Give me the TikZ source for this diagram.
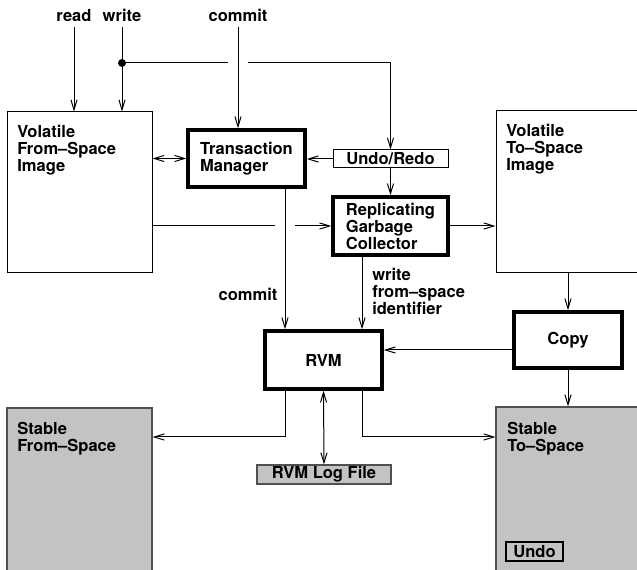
\documentclass[tikz,border=0pt]{standalone}
\usepackage{fontspec}
\setmainfont{TeX Gyre Heros}
\usetikzlibrary{arrows.meta}
\definecolor{sgray}{RGB}{195,195,195}
\definecolor{edgegray}{RGB}{80,80,80}
\begin{document}
\begin{tikzpicture}[x=0.75pt,y=-0.75pt,
  >={Straight Barb[length=7.5pt,width=4.6pt]},
  every node/.style={font=\fontsize{12.4}{12.75}\selectfont\bfseries},
  sz/.style 2 args={minimum width=#1*0.75pt, minimum height=#2*0.75pt},
  conn/.style={line width=0.75pt},
  thinbox/.style={draw, rectangle, line width=0.75pt, inner sep=0pt, align=left},
  thickbox/.style={draw, rectangle, line width=2.6pt, inner sep=0pt, align=left},
  graybox/.style={draw=edgegray, fill=sgray, rectangle, line width=0.9pt, inner sep=0pt, align=left},
  lbl/.style={inner sep=0pt, anchor=north west, align=left},
  toplbl/.style={anchor=base},
]
\clip (0,0) rectangle (637,570);
\fill[white] (0,0) rectangle (637,570);

% boxes (centre, width, height in px)
\node[thinbox, sz={145}{161}] (vfs) at (79.5,192.5) {};
\node[thickbox, sz={117}{57}] (tm) at (246.5,158.5) {Transaction\\Manager};
\node[thinbox, sz={115}{18}] (ur) at (390.5,159) {Undo/Redo};
\node[thickbox, sz={115}{58}] (rgc) at (390.5,226) {Replicating\\Garbage\\Collector};
\node[thinbox, sz={164}{162}] (vts) at (578,192) {};
\node[thickbox, sz={108}{56}] (copy) at (568,340) {Copy};
\node[thickbox, sz={117}{58}] (rvm) at (323.5,360) {RVM};
\node[graybox, sz={145}{192}] (sfs) at (79.5,504) {};
\node[graybox, sz={164}{193}] (sts) at (578,503.5) {};
\node[graybox, sz={134}{19}] (log) at (324,474.5) {RVM Log File};
\node[draw, fill=sgray, rectangle, line width=1pt, inner sep=0pt, sz={57}{19}] (undo) at (534.5,551.5) {Undo};

% texts inside the large boxes
\node[lbl] (vfst) at (17,125) {Volatile\\From--Space\\Image};
\node[lbl] (vtst) at (506,124) {Volatile\\To--Space\\Image};
\node[lbl] (sfst) at (17,422) {Stable\\From--Space};
\node[lbl] (stst) at (507,422) {Stable\\To--Space};

% top labels
\node[toplbl] (rdl) at (74,22) {read};
\node[toplbl] (wrl) at (122,22) {write};
\node[toplbl] (cml) at (238,22) {commit};

% side labels
\node (cm2) at (248,294) {commit};
\node[lbl] (wfs) at (372,268) {write\\from--space\\identifier};

% helper coordinates
\coordinate (dotpos) at (122,63);
\coordinate (gapl) at (228,63);
\coordinate (gapr) at (248,63);
\coordinate (gap2l) at (275,226);
\coordinate (gap2r) at (295,226);
\coordinate (xa) at (285,0);
\coordinate (xb) at (362,0);
\coordinate (yb) at (0,437);
\coordinate (yc) at (0,350);

\fill (dotpos) circle[radius=3pt];

% connectors
\draw[conn,->] (rdl.south) -- (vfs.north -| rdl);
\draw[conn,->] (wrl.south) -- (vfs.north -| wrl);
\draw[conn,->] (cml.south) -- (tm.north -| cml);
\draw[conn] (dotpos) -- (gapl);
\draw[conn,->] (gapr) -| (ur.north);
\draw[conn,<->] (vfs.east |- tm.west) -- (tm.west);
\draw[conn,->] (ur.west) -- (tm.east |- ur.west);
\draw[conn,->] (ur.south) -- (rgc.north);
\draw[conn] (vfs.east |- gap2l) -- (gap2l);
\draw[conn,->] (gap2r) -- (rgc.west);
\draw[conn,->] (rgc.east) -- (vts.west |- rgc.east);
\draw[conn,->] (tm.south -| xa) -- (rvm.north -| xa);
\draw[conn,->] (rgc.south -| xb) -- (rvm.north -| xb);
\draw[conn,->] (vts.south -| copy) -- (copy.north);
\draw[conn,->] (copy.south) -- (sts.north -| copy);
\draw[conn,->] (copy.west |- yc) -- (rvm.east |- yc);
\draw[conn,->] (rvm.south -| xa) |- (sfs.east |- yb);
\draw[conn,->] (rvm.south -| xb) |- (sts.west |- yb);
\draw[conn,<->] (rvm.south) -- (log.north);
\end{tikzpicture}
\end{document}
